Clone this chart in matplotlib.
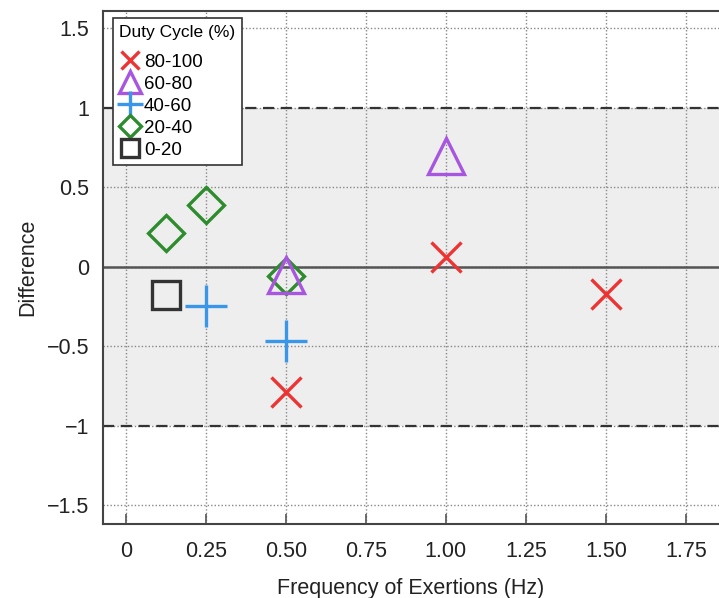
import matplotlib
matplotlib.use("Agg")
import matplotlib.pyplot as plt

plt.rcParams['font.family'] = ['Liberation Sans', 'DejaVu Sans']

# Data
x_80_100 = [0.5, 1.0, 1.5]
y_80_100 = [-0.79, 0.06, -0.17]
x_60_80 = [0.5, 1.0]
y_60_80 = [-0.05, 0.70]
x_40_60 = [0.25, 0.5]
y_40_60 = [-0.25, -0.47]
x_20_40 = [0.125, 0.25, 0.5]
y_20_40 = [0.21, 0.39, -0.06]
x_0_20 = [0.125]
y_0_20 = [-0.18]

xticks = [0, 0.25, 0.5, 0.75, 1.0, 1.25, 1.5, 1.75]
xticklabels = ['0', '0.25', '0.50', '0.75', '1.00', '1.25', '1.50', '1.75']
yticks = [1.5, 1, 0.5, 0, -0.5, -1, -1.5]
yticklabels = ['1.5', '1', '0.5', '0', '\u22120.5', '\u22121', '\u22121.5']

fig = plt.figure(figsize=(7.19, 5.98), dpi=100)
ax = fig.add_axes([0.1433, 0.1237, 0.8567, 0.8579])
ax.set_xlim(-0.071, 1.853)
ax.set_ylim(-1.62, 1.61)

ax.axhspan(-1, 1, color='#eeeeee', zorder=0, lw=0)
ax.grid(True, linestyle=(0, (1, 1.5)), color='#888888', linewidth=1.0, zorder=1)
ax.axhline(1, color='#333333', linestyle=(0, (5, 3)), linewidth=1.6, zorder=2)
ax.axhline(-1, color='#333333', linestyle=(0, (5, 3)), linewidth=1.6, zorder=2)
ax.axhline(0, color='#555555', linewidth=1.8, zorder=2)

lw = 2.4
ax.plot(x_80_100, y_80_100, linestyle='none', marker='x', markersize=21, mew=lw,
        color='#ee3333', label='80-100', zorder=5)
ax.plot(x_60_80, y_60_80, linestyle='none', marker='^', markersize=26, mew=lw,
        mfc='none', mec='#a855e0', label='60-80', zorder=5)
ax.plot(x_40_60, y_40_60, linestyle='none', marker='+', markersize=30, mew=lw,
        color='#3a96e8', label='40-60', zorder=5)
ax.plot(x_20_40, y_20_40, linestyle='none', marker='D', markersize=18, mew=lw,
        mfc='none', mec='#2e8b2e', label='20-40', zorder=4)
ax.plot(x_0_20, y_0_20, linestyle='none', marker='s', markersize=20, mew=lw,
        mfc='none', mec='#333333', label='0-20', zorder=5)

ax.set_xticks(xticks)
ax.set_xticklabels(xticklabels)
ax.set_yticks(yticks)
ax.set_yticklabels(yticklabels)
ax.tick_params(axis='x', direction='in', length=7, width=1.2, color='#555555',
               labelsize=15.5, pad=12, labelcolor='#222222')
ax.tick_params(axis='y', length=0, labelsize=15.5, pad=10, labelcolor='#222222')

for s in ['left', 'bottom', 'top']:
    ax.spines[s].set_color('#444444')
    ax.spines[s].set_linewidth(1.5)
ax.spines['right'].set_visible(False)

ax.set_xlabel('Frequency of Exertions (Hz)', fontsize=15.5, labelpad=12, color='#222222')
ax.set_ylabel('Difference', fontsize=15.5, labelpad=6, color='#222222')

leg = ax.legend(title='Duty Cycle (%)', loc='upper left', bbox_to_anchor=(0.016, 0.986),
                borderaxespad=0, fontsize=13.5, title_fontsize=12.5, markerscale=0.62,
                handlelength=1.1, handletextpad=0.2, labelspacing=0.26, borderpad=0.35,
                fancybox=False, edgecolor='#333333', framealpha=1)
leg.get_frame().set_linewidth(1.2)
leg._legend_box.align = 'left'
leg._legend_box.sep = 10
leg.set_zorder(10)

fig.savefig('out.png', dpi=100)
